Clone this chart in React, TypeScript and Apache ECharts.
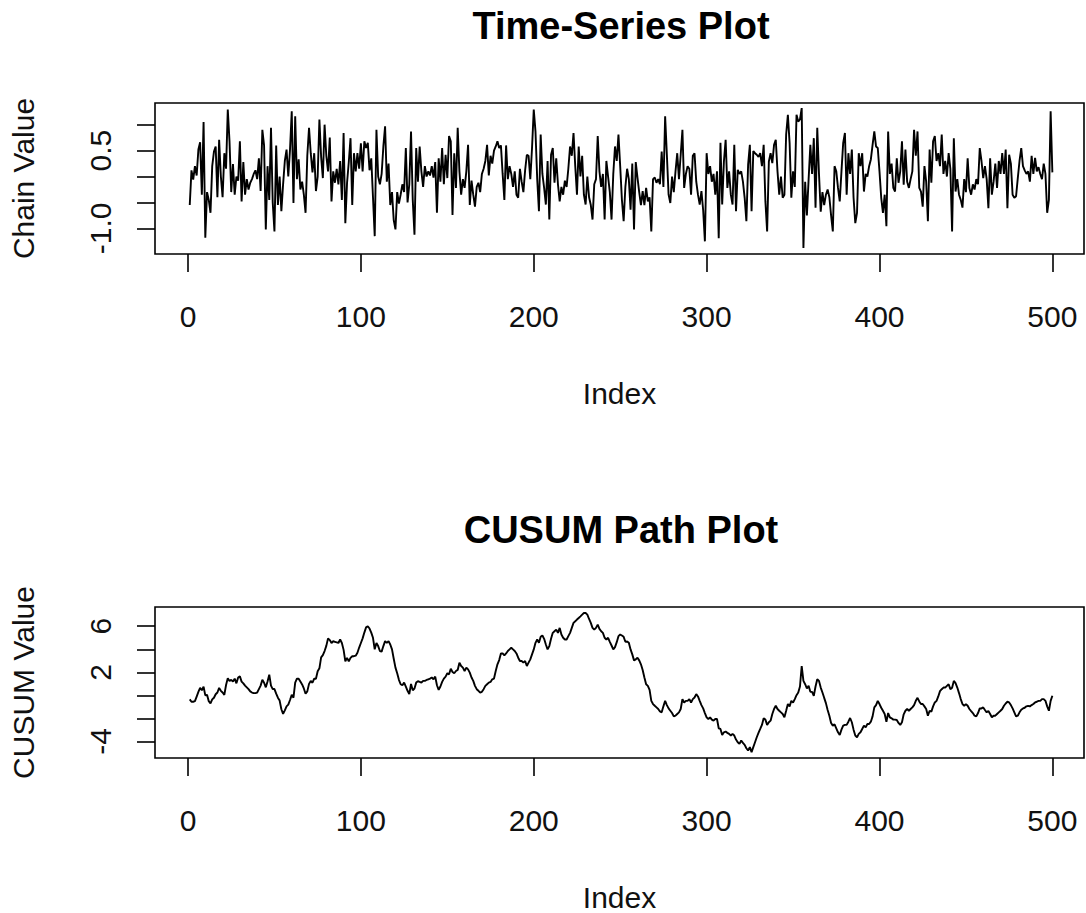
import React, { useEffect, useRef } from "react";
import * as echarts from "echarts";

// Chain values, index 1..500
const CHAIN: number[] = [
  -0.55, 0.12, -0.06, 0.20, 0.02, 0.52, 0.66, -0.35, 1.05, -1.18,
  -0.30, -0.45, -0.70, 0.20, 0.48, 0.58, -0.40, 0.71, 0.00, -0.40,
  0.45, 0.15, 1.29, 0.68, -0.30, 0.24, -0.35, 0.00, -0.08, 0.68,
  -0.48, 0.28, -0.35, -0.05, -0.25, -0.12, -0.05, 0.05, 0.12, -0.05,
  0.35, -0.28, 0.90, 0.60, -1.02, 0.20, -0.45, 0.94, -0.50, -1.06,
  0.60, -0.55, 0.00, -0.67, -0.15, 0.30, 0.52, 0.00, 0.52, 1.26,
  -0.51, 1.16, -0.05, 0.33, -0.25, -0.10, -0.35, -0.70, 0.40, 0.94,
  0.45, 0.08, 0.45, -0.28, 0.00, 1.10, 0.38, -0.03, 1.00, 0.40,
  0.10, 0.75, -0.48, 0.10, -0.12, 0.15, -0.15, 0.30, -0.45, 0.84,
  -0.90, -0.12, 0.28, 0.74, -0.55, 0.45, 0.10, 0.45, 0.15, 0.64,
  0.10, 0.68, 0.55, 0.65, 0.12, 0.35, -0.40, -1.15, 0.90, 0.00,
  -0.15, 0.05, 0.58, 0.97, -0.10, 0.25, -0.55, -0.30, -0.84, -1.02,
  -0.30, -0.52, -0.35, -0.15, -0.30, 0.55, -0.50, -0.15, 0.87, -0.45,
  -1.12, 0.55, -0.10, 0.58, 0.10, -0.20, 0.20, 0.00, 0.10, 0.02,
  0.20, -0.02, 0.28, -0.70, 0.35, -0.10, 0.55, -0.15, 0.42, -0.03,
  0.78, 0.68, -0.74, 0.45, -0.22, 0.94, 0.10, -0.35, -0.05, -0.22,
  0.10, 0.61, -0.55, -0.08, -0.35, -0.58, -0.20, -0.12, -0.30, 0.05,
  0.15, 0.30, 0.61, 0.02, 0.40, 0.25, 0.50, 0.58, 0.68, 0.55,
  0.60, 0.05, -0.45, 0.60, -0.05, 0.20, 0.05, -0.20, 0.10, -0.35,
  -0.41, 0.15, -0.10, -0.30, 0.12, 0.42, 0.40, -0.05, 0.55, 1.29,
  0.87, -0.05, -0.67, 0.81, 0.05, -0.22, -0.54, 0.30, -0.83, 0.42,
  0.55, -0.12, 0.35, -0.15, -0.48, -0.20, -0.35, -0.08, -0.20, 0.15,
  0.58, 0.40, 0.84, 0.20, -0.35, 0.58, 0.00, 0.40, -0.35, -0.54,
  0.00, -0.40, -0.55, -0.83, -0.15, -0.05, 0.78, 0.10, -0.20, 0.05,
  -0.83, 0.30, 0.00, -0.30, -0.83, 0.05, 0.58, 0.30, 0.81, 0.20,
  -0.45, -0.86, -0.20, 0.15, -0.05, -0.64, 0.25, -1.02, 0.28, -0.02,
  -0.30, -0.55, -0.28, -0.55, -0.22, -0.48, -0.40, -1.06, -0.05, -0.02,
  -0.12, -0.05, -0.15, 0.48, -0.20, 1.16, 0.42, -0.35, -0.51, 0.00,
  -0.30, 0.10, 0.45, -0.05, 0.42, 0.90, -0.22, 0.05, 0.20, 0.15,
  -0.35, 0.40, 0.45, -0.10, -0.35, -0.54, -0.28, -0.65, -1.25, 0.45,
  0.05, 0.20, -0.10, 0.05, -0.35, 0.10, -1.19, 0.65, -0.54, 0.29,
  0.71, -0.22, 0.10, -0.35, -0.54, 0.61, -0.67, 0.13, 0.05, 0.10,
  -0.10, -0.41, -0.86, 0.23, 0.61, -0.67, 0.49, 0.45, 0.42, 0.38,
  0.45, 0.20, 0.61, -0.48, -1.06, 0.29, 0.45, 0.26, 0.61, 0.71,
  0.10, -0.35, 0.00, -0.41, -0.35, 0.81, 1.19, 0.65, -0.41, 0.10,
  -0.20, 1.19, 1.06, 1.10, 1.32, -1.38, -0.10, -0.75, -0.05, 0.61,
  0.05, 0.74, -0.60, 0.94, 0.05, -0.68, -0.30, -0.55, -0.35, -0.25,
  -0.40, -0.75, -1.06, 0.20, 0.10, -0.22, -0.48, 0.10, 0.65, 0.84,
  -0.35, 0.45, 0.05, 0.52, -0.41, -0.90, -0.70, 0.45, 0.20, 0.45,
  -0.29, 0.05, 0.00, 0.20, 0.33, 0.61, 0.87, 0.58, 0.55, 0.10,
  -0.41, -0.70, -0.35, -0.96, 0.87, 0.05, 0.25, -0.22, -0.29, 0.35,
  -0.12, 0.10, 0.68, -0.16, 0.52, -0.10, -0.22, -0.05, 0.10, 0.90,
  0.40, 0.87, -0.22, -0.29, -0.58, 0.20, -0.10, -0.86, 0.52, -0.12,
  0.68, 0.78, 0.30, 0.45, 0.20, 0.81, 0.05, 0.30, 0.00, 0.45,
  0.15, -1.06, 0.74, -0.29, -0.05, -0.35, -0.45, -0.60, -0.05, -0.30,
  0.35, -0.22, -0.35, -0.15, -0.25, -0.05, -0.15, 0.55, 0.30, -0.03,
  0.20, -0.05, -0.61, 0.35, -0.35, -0.10, 0.25, -0.22, 0.30, 0.05,
  0.45, 0.05, 0.52, -0.61, 0.42, 0.25, -0.35, -0.41, -0.38, -0.03,
  0.30, 0.55, 0.20, 0.12, 0.05, 0.10, -0.10, 0.40, 0.05, 0.36,
  0.10, 0.18, 0.05, -0.05, 0.25, 0.05, -0.70, -0.45, 1.26, 0.08,
];

// CUSUM path values, index 1..500
const CUSUM: number[] = [
  -0.35, -0.55, -0.55, -0.50, -0.10, 0.30, 0.65, 0.45, 0.75, 0.00,
  0.05, -0.50, -0.70, -0.35, -0.20, 0.10, 0.25, 0.65, 0.40, 0.25,
  0.05, 0.90, 1.50, 1.25, 1.35, 1.20, 1.45, 1.05, 1.55, 1.65,
  1.20, 1.05, 0.85, 0.70, 0.55, 0.35, 0.25, 0.20, 0.20, 0.25,
  0.55, 0.85, 1.35, 1.10, 0.70, 1.20, 1.80, 0.85, 0.55, 0.55,
  0.15, -0.20, -0.45, -1.20, -1.60, -1.30, -0.95, -0.80, -0.40, 0.05,
  -0.20, 1.10, 1.45, 1.45, 1.20, 0.95, 0.60, 0.15, 0.35, 1.00,
  1.25, 1.10, 1.45, 1.45, 2.10, 2.35, 3.30, 3.50, 3.85, 4.30,
  4.95, 4.80, 4.55, 4.70, 4.65, 4.60, 4.55, 4.85, 4.55, 3.95,
  2.95, 3.25, 2.95, 3.25, 3.40, 3.40, 3.45, 3.70, 4.15, 4.55,
  4.95, 5.45, 5.90, 6.00, 5.80, 5.45, 5.00, 4.00, 4.55, 4.28,
  3.85, 3.80, 4.28, 4.71, 4.56, 4.71, 4.42, 3.99, 3.18, 2.41,
  1.92, 1.35, 0.97, 0.88, 1.11, 0.77, 0.40, 0.11, 1.00, 0.45,
  0.60, 1.11, 1.23, 1.17, 1.11, 1.26, 1.26, 1.34, 1.40, 1.46,
  1.55, 1.40, 1.63, 0.88, 0.48, 0.77, 1.17, 1.46, 1.63, 1.92,
  1.83, 2.32, 2.03, 1.92, 2.12, 2.21, 2.84, 2.55, 2.41, 2.12,
  2.41, 2.26, 1.98, 1.55, 1.26, 0.83, 0.54, 0.40, 0.25, 0.31,
  0.54, 0.83, 0.97, 1.11, 1.17, 1.40, 1.46, 2.12, 2.70, 3.07,
  3.64, 3.64, 3.47, 3.64, 3.85, 3.99, 4.13, 3.99, 3.85, 3.64,
  3.27, 2.98, 2.98, 2.84, 2.98, 2.55, 2.84, 3.13, 3.56, 3.99,
  4.56, 4.85, 4.56, 5.08, 5.20, 4.91, 4.42, 3.99, 4.28, 4.91,
  5.43, 5.57, 5.71, 5.43, 5.86, 5.28, 5.00, 4.85, 4.85, 5.14,
  5.43, 5.86, 6.29, 6.43, 6.58, 6.72, 6.86, 7.01, 7.15, 7.15,
  7.01, 6.63, 6.29, 5.86, 5.71, 5.86, 6.14, 5.77, 5.57, 5.43,
  5.00, 4.85, 5.00, 4.65, 4.33, 3.99, 4.19, 4.62, 5.14, 5.28,
  5.20, 5.08, 4.65, 4.68, 4.56, 3.99, 3.56, 3.04, 3.13, 3.27,
  3.04, 2.70, 2.21, 1.55, 0.97, 0.83, 0.48, -0.47, -0.75, -0.90,
  -1.04, -1.18, -1.39, -1.47, -0.95, -0.47, -0.84, -1.13, -1.33, -1.53,
  -1.82, -1.76, -1.61, -1.47, -1.18, -0.32, -0.61, -0.47, -0.47, -0.32,
  -0.61, -0.32, -0.18, 0.11, -0.09, -0.47, -0.84, -1.13, -1.53, -1.90,
  -2.05, -1.90, -2.10, -2.19, -2.05, -2.05, -2.85, -2.91, -3.43, -3.20,
  -3.14, -3.25, -3.34, -3.48, -3.34, -3.48, -3.83, -4.06, -4.20, -3.91,
  -4.12, -4.29, -4.58, -4.78, -4.49, -4.92, -4.49, -4.06, -3.63, -3.25,
  -2.91, -2.56, -1.99, -2.10, -2.56, -2.33, -2.19, -1.61, -1.18, -0.90,
  -1.18, -1.33, -1.47, -1.61, -1.90, -1.33, -0.75, -0.95, -0.47, -0.61,
  -0.32, 0.02, 0.25, 0.77, 2.55, 1.26, 0.97, 0.60, 0.83, 0.31,
  0.31, -0.03, 0.77, 1.40, 1.26, 0.68, 0.25, -0.21, -0.67, -1.27,
  -1.76, -2.39, -2.62, -2.51, -2.85, -3.20, -3.43, -2.97, -2.62, -2.56,
  -2.56, -2.28, -1.96, -2.33, -2.97, -3.48, -3.63, -3.34, -3.20, -2.91,
  -2.62, -2.77, -2.48, -2.48, -2.28, -1.82, -1.04, -0.84, -0.47, -0.75,
  -1.07, -1.33, -1.61, -2.28, -1.53, -1.90, -1.99, -2.10, -2.10, -2.13,
  -2.39, -2.56, -2.33, -1.64, -1.33, -1.18, -1.33, -1.18, -1.04, -0.84,
  -0.47, -0.21, -0.52, -0.75, -0.75, -0.95, -1.18, -1.76, -1.33, -1.41,
  -0.95, -0.61, -0.47, -0.09, 0.37, 0.54, 0.68, 0.68, 0.83, 0.97,
  0.54, 0.66, 1.26, 1.06, 0.68, 0.20, -0.32, -0.75, -0.90, -0.75,
  -0.90, -1.18, -1.36, -1.53, -1.76, -1.82, -1.53, -1.13, -1.13, -1.04,
  -1.27, -1.47, -1.36, -1.61, -1.90, -1.76, -1.76, -1.61, -1.47, -1.33,
  -1.18, -0.90, -0.70, -0.55, -0.61, -0.84, -1.13, -1.47, -1.82, -1.76,
  -1.47, -1.24, -1.13, -1.07, -0.95, -0.90, -0.95, -0.84, -0.75, -0.61,
  -0.55, -0.47, -0.47, -0.32, -0.32, -0.47, -0.95, -1.33, -0.47, -0.03,
];

const X_TICKS = [0, 100, 200, 300, 400, 500];
const CHAIN_TICKS = [-1, -0.5, 0, 0.5, 1];
const CHAIN_LABELS = [-1, 0.5];
const CUSUM_TICKS = [-4, -2, 0, 2, 4, 6];
const CUSUM_LABELS = [-4, 2, 6];
const TITLES = ["Time-Series Plot", "CUSUM Path Plot"];
const X_NAME = "Index";
const Y_NAMES = ["Chain Value", "CUSUM Value"];

const FONT = "'Liberation Sans', Arial, Helvetica, sans-serif";

export default function App() {
  const ref = useRef<HTMLDivElement>(null);

  useEffect(() => {
    if (!ref.current) return;
    const chart = echarts.init(ref.current, undefined, { renderer: "svg" });

    const axisText = { color: "#111", fontSize: 30, fontFamily: FONT };
    const tickStyle = { color: "#000", width: 1.6 };

    const makeX = (g: number) => ({
      type: "value",
      gridIndex: g,
      min: -19.1,
      max: 518.3,
      axisLine: { show: false, onZero: false },
      axisTick: { show: true, length: 18, customValues: X_TICKS, lineStyle: tickStyle },
      axisLabel: { show: true, customValues: X_TICKS, margin: 47, ...axisText },
      splitLine: { show: false },
      name: X_NAME,
      nameLocation: "middle",
      nameGap: 124,
      nameTextStyle: axisText,
    });

    const makeY = (
      g: number,
      min: number,
      max: number,
      ticks: number[],
      labels: number[],
      fmt: (v: number) => string,
      name: string
    ) => ({
      type: "value",
      gridIndex: g,
      min,
      max,
      axisLine: { show: false, onZero: false },
      axisTick: { show: true, length: 18, customValues: ticks, lineStyle: tickStyle },
      axisLabel: {
        show: true,
        customValues: labels,
        rotate: 90,
        margin: 40,
        formatter: fmt,
        ...axisText,
      },
      splitLine: { show: false },
      name,
      nameLocation: "middle",
      nameGap: 117,
      nameTextStyle: axisText,
    });

    const option: any = {
      animation: false,
      backgroundColor: "#fff",
      grid: [
        { left: 153, top: 103, width: 931, height: 151, show: true, borderColor: "#000", borderWidth: 1.6, backgroundColor: "transparent" },
        { left: 153, top: 607, width: 931, height: 152, show: true, borderColor: "#000", borderWidth: 1.6, backgroundColor: "transparent" },
      ],
      xAxis: [makeX(0), makeX(1)],
      yAxis: [
        makeY(0, -1.494, 1.418, CHAIN_TICKS, CHAIN_LABELS, (v: number) => v.toFixed(1), Y_NAMES[0]),
        makeY(1, -5.43, 7.67, CUSUM_TICKS, CUSUM_LABELS, (v: number) => String(v), Y_NAMES[1]),
      ],
      series: [
        {
          type: "line",
          xAxisIndex: 0,
          yAxisIndex: 0,
          data: CHAIN.map((v, i) => [i + 1, v]),
          symbol: "none",
          showSymbol: false,
          silent: true,
          lineStyle: { color: "#000", width: 1.9 },
        },
        {
          type: "line",
          xAxisIndex: 1,
          yAxisIndex: 1,
          data: CUSUM.map((v, i) => [i + 1, v]),
          symbol: "none",
          showSymbol: false,
          silent: true,
          lineStyle: { color: "#000", width: 1.9 },
        },
      ],
      graphic: [
        {
          type: "text",
          x: 621,
          y: 26,
          style: {
            text: TITLES[0],
            fontSize: 38,
            fontWeight: "bold",
            fontFamily: FONT,
            fill: "#000",
            align: "center",
            verticalAlign: "middle",
          },
        },
        {
          type: "text",
          x: 621,
          y: 530,
          style: {
            text: TITLES[1],
            fontSize: 38,
            fontWeight: "bold",
            fontFamily: FONT,
            fill: "#000",
            align: "center",
            verticalAlign: "middle",
          },
        },
      ],
    };

    chart.setOption(option);
    return () => chart.dispose();
  }, []);

  return (
    <div
      ref={ref}
      style={{ position: "fixed", left: 0, top: 0, width: 1086, height: 913, background: "#fff" }}
    />
  );
}
